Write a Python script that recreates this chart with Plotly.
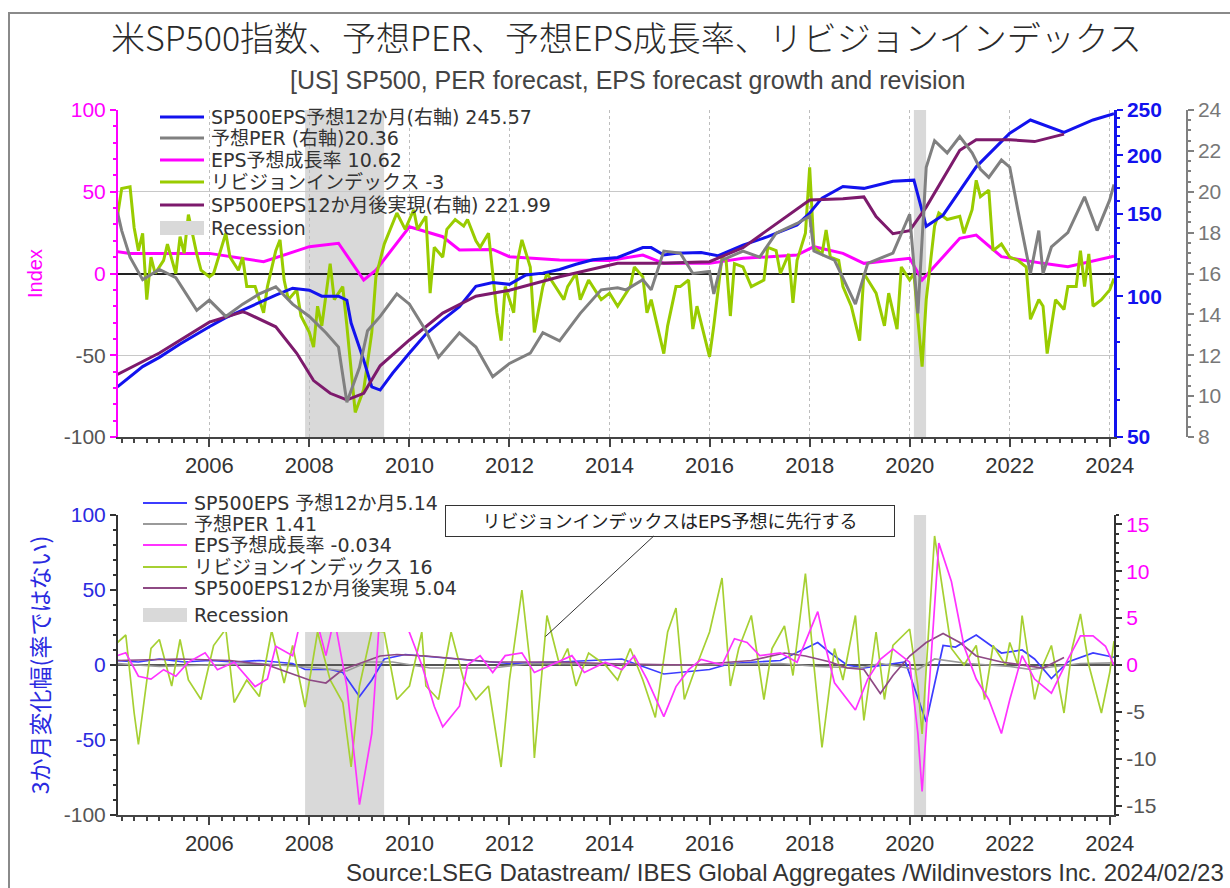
import math
import plotly.graph_objects as go

W, H = 1230, 888

# ---------------- Top panel: levels ----------------
# S&P500 12-month forward EPS (right axis, log)
eps_fwd_dates = ["2004-03", "2004-09", "2005-01", "2005-06", "2006-01", "2006-05", "2006-09", "2007-01",
                 "2007-05", "2007-09", "2008-01", "2008-04", "2008-08", "2008-10", "2008-11", "2009-02",
                 "2009-04", "2009-06", "2009-09", "2010-01", "2010-05", "2010-09", "2011-01", "2011-05",
                 "2011-09", "2012-01", "2012-05", "2012-09", "2013-01", "2013-05", "2013-09", "2014-03",
                 "2014-09", "2014-11", "2015-02", "2015-05", "2015-11", "2016-03", "2016-09", "2017-03",
                 "2017-10", "2018-01", "2018-04", "2018-09", "2019-02", "2019-09", "2020-02", "2020-05",
                 "2020-09", "2021-05", "2022-01", "2022-06", "2023-02", "2023-09", "2024-02"]
eps_fwd = [64, 70.7, 74, 79, 86, 90, 93.4, 97,
           100.5, 104, 103, 100, 100, 98, 87.6, 73,
           64, 63, 68.5, 75.6, 83, 89, 95, 105,
           107, 106, 111, 112, 114, 117, 119.6, 121,
           127, 127, 122.5, 123.5, 124, 122, 128.6, 134,
           142, 150.6, 162, 171.6, 170, 176, 177, 141,
           149, 189, 223, 238, 224, 238, 245.57]

# Forward PER (second right axis)
per_dates = ["2004-03", "2004-04", "2004-06", "2004-09", "2005-01", "2005-05", "2005-10", "2006-01",
             "2006-05", "2006-09", "2007-01", "2007-05", "2007-09", "2008-01", "2008-05", "2008-08",
             "2008-10", "2009-01", "2009-03", "2009-06", "2009-10", "2010-01", "2010-05", "2010-08",
             "2011-01", "2011-05", "2011-09", "2012-01", "2012-06", "2012-09", "2013-01", "2013-06",
             "2013-11", "2014-03", "2014-05", "2014-09", "2014-11", "2015-02", "2015-06", "2015-09",
             "2016-01", "2016-02", "2016-04", "2016-09", "2017-01", "2017-05", "2017-10", "2018-01",
             "2018-02", "2018-07", "2018-12", "2019-03", "2019-09", "2020-01", "2020-03", "2020-05",
             "2020-07", "2020-10", "2021-01", "2021-04", "2021-06", "2021-08", "2021-11", "2022-01",
             "2022-03", "2022-06", "2022-08", "2022-09", "2022-11", "2023-03", "2023-07", "2023-10",
             "2024-01", "2024-02"]
per = [19.0, 18.1, 16.8, 15.7, 16.2, 15.8, 14.2, 14.7,
       13.9, 14.5, 15.0, 15.35, 14.5, 13.9, 13.1, 12.4,
       9.7, 11.4, 13.2, 13.9, 15.0, 14.5, 13.2, 11.9,
       13.1, 12.4, 10.95, 11.6, 12.1, 13.1, 12.7, 14.05,
       15.2, 15.3, 15.2, 15.7, 15.2, 17.1, 17.0, 16.0,
       16.1, 15.0, 16.65, 17.1, 16.8, 17.97, 18.45, 18.8,
       17.1, 16.65, 14.5, 16.5, 17.0, 18.9, 14.05, 21.2,
       22.5, 21.9, 22.7, 21.9, 21.1, 20.7, 21.55, 21.2,
       19.1, 16.0, 18.1, 16.0, 17.3, 18.0, 19.75, 18.1,
       19.6, 20.36]

# Forecast EPS growth (left axis)
growth_dates = ["2004-03", "2004-06", "2006-01", "2007-02", "2008-01", "2008-08", "2009-02", "2009-05",
                "2010-01", "2010-05", "2010-09", "2011-01", "2011-09", "2012-01", "2013-01", "2014-01",
                "2014-09", "2015-02", "2016-01", "2016-09", "2017-10", "2018-02", "2018-09", "2019-02",
                "2020-01", "2020-04", "2020-09", "2021-01", "2021-05", "2021-11", "2022-09", "2023-03",
                "2024-02"]
growth = [13.3, 12.3, 12.3, 7.2, 16.4, 18.5, -4, 2,
          28.6, 25.6, 22.5, 14.4, 14.7, 10.3, 8.3, 8,
          11.3, 6.2, 6.2, 9.3, 11.3, 16.4, 12.3, 6.2,
          9.3, -4, 10.3, 21.5, 23.5, 10.3, 6.2, 4.2,
          10.62]

# Revision index (left axis)
rev_dates = ["2004-03", "2004-04", "2004-06", "2004-07", "2004-08", "2004-09", "2004-10", "2004-11",
             "2004-12", "2005-02", "2005-03", "2005-05", "2005-06", "2005-07", "2005-08", "2005-10",
             "2005-11", "2006-01", "2006-02", "2006-05", "2006-06", "2006-08", "2006-09", "2006-10",
             "2006-12", "2007-02", "2007-03", "2007-05", "2007-06", "2007-07", "2007-08", "2007-10",
             "2007-11", "2008-01", "2008-02", "2008-03", "2008-04", "2008-06", "2008-07", "2008-09",
             "2008-10", "2008-12", "2009-02", "2009-04", "2009-05", "2009-07", "2009-10", "2009-12",
             "2010-02", "2010-03", "2010-05", "2010-06", "2010-07", "2010-09", "2010-10", "2010-12",
             "2011-02", "2011-03", "2011-05", "2011-06", "2011-08", "2011-10", "2011-11", "2011-12",
             "2012-02", "2012-03", "2012-04", "2012-06", "2012-07", "2012-09", "2012-10", "2012-12",
             "2013-02", "2013-03", "2013-05", "2013-06", "2013-08", "2013-10", "2013-11", "2014-01",
             "2014-03", "2014-06", "2014-07", "2014-09", "2014-10", "2014-11", "2015-02", "2015-03",
             "2015-05", "2015-06", "2015-08", "2015-09", "2015-10", "2016-01", "2016-02", "2016-04",
             "2016-05", "2016-06", "2016-07", "2016-09", "2016-11", "2017-02", "2017-03", "2017-05",
             "2017-06", "2017-08", "2017-09", "2017-10", "2017-12", "2018-01", "2018-02", "2018-04",
             "2018-05", "2018-06", "2018-08", "2018-09", "2018-11", "2019-01", "2019-02", "2019-04",
             "2019-05", "2019-07", "2019-08", "2019-10", "2019-11", "2020-01", "2020-02", "2020-04",
             "2020-05", "2020-07", "2020-08", "2020-10", "2021-01", "2021-02", "2021-04", "2021-05",
             "2021-06", "2021-08", "2021-09", "2021-11", "2022-01", "2022-03", "2022-05", "2022-06",
             "2022-08", "2022-09", "2022-10", "2022-12", "2023-02", "2023-03", "2023-05", "2023-06",
             "2023-07", "2023-08", "2023-09", "2023-11", "2024-01", "2024-02"]
rev = [35, 52, 53, 28, 14, 24.6, -16, 10,
       0, 8, 18, 0, 22.6, 12.4, 36, 12,
       2, -2, 0, 24.6, 10, 2, 10, -8,
       -8, -24, -8, 14, 20.6, -4, -16, -10,
       -26, -36, -45, -20, -32, 6, -16, -8,
       -32, -85, -71, -36, -2, 18, 37, 27,
       39, 27, 35, -12, 16, 10, 27, 33,
       29, 33, 20, 16, 24.6, -24, -41, -8,
       -24, 8, 20.6, 4, -36, -8, 0, -8,
       -16, -8, 0, -16, -4, -12, -16, -12,
       -20, -8, 4, -2, -24, -16, -49, -32,
       -8, -8, -4, -34, -20, -51, -32, 10,
       8, -26, 6, 4, -8, -4, 16, 14,
       0, 12, -18, 8, 24.6, 65, 16, 12,
       26.6, 10, 8, -8, -20, -41, 0, -8,
       -12, -32, -12, -34, 4, -4, 0, -57,
       -16, 29, 37, 33, 35, 24.6, 39, 57,
       47, 51, 14, 18, 10, 8, 4, -28,
       -16, -20, -49, -16, -22, -8, -8, 14,
       -8, 12, -20, -16, -10, -3]

# Realised EPS 12 months later (right axis, log)
eps_act_dates = ["2004-03", "2005-01", "2006-01", "2006-09", "2006-10", "2007-05", "2007-10", "2008-02",
                 "2008-06", "2008-10", "2009-02", "2009-06", "2010-01", "2010-09", "2011-05", "2012-01",
                 "2013-01", "2014-03", "2015-01", "2016-01", "2016-09", "2017-03", "2017-10", "2018-01",
                 "2018-09", "2019-02", "2019-05", "2019-09", "2020-01", "2020-05", "2021-01", "2021-05",
                 "2022-01", "2022-07", "2023-02"]
eps_act = [68, 75.6, 88, 92.6, 92, 86, 75.5, 66,
           62, 60, 62, 71, 80.6, 92, 100, 103,
           110, 117.6, 117.6, 118.5, 127, 138.6, 153, 160.6,
           161.5, 163, 148, 136, 138, 155, 205, 216,
           216, 214, 221.99]

# ---------------- Bottom panel: 3-month changes ----------------
d_eps_fwd_dates = ["2004-03", "2004-08", "2005-01", "2005-07", "2006-01", "2006-07", "2007-01", "2007-06",
                   "2007-09", "2007-12", "2008-06", "2008-09", "2009-01", "2009-04", "2009-07", "2009-12",
                   "2011-01", "2012-01", "2013-01", "2014-04", "2015-02", "2016-01", "2016-06", "2017-06",
                   "2018-03", "2018-06", "2018-10", "2019-02", "2019-12", "2020-05", "2020-09", "2020-12",
                   "2021-05", "2021-11", "2022-04", "2022-07", "2022-11", "2023-03", "2023-09", "2024-02"]
d_eps_fwd = [3, 2, 4, 2, 3, 2, 3, 2,
             1, -3, -3, -5, -21, -10, 4, 7,
             4, 1, 2, 4, -6, -3, 1, 3,
             15, 8, 0, -2, 2, -38, 13, 12,
             20, 8, 10, 4, -9, 2, 8, 5.14]

d_per_dates = ["2004-03", "2005-01", "2006-01", "2007-01", "2008-03", "2008-10", "2009-03", "2009-09",
               "2010-06", "2011-09", "2012-06", "2013-06", "2014-06", "2015-06", "2016-03", "2017-06",
               "2018-03", "2019-01", "2019-06", "2020-03", "2020-07", "2021-03", "2022-01", "2022-06",
               "2023-06", "2024-02"]
d_per = [1, -1, 0, 1, -2, -4, 2, 2,
         -2, -2, 1, 1, 0.5, 0, 0.5, 1,
         -1, -2, 1, -3, 4, 1, -1, -3,
         1, 1.41]

d_growth_dates = ["2004-03", "2004-05", "2004-08", "2004-11", "2005-02", "2005-05", "2005-08", "2005-12",
                  "2006-03", "2006-07", "2006-12", "2007-03", "2007-05", "2007-09", "2007-11", "2008-02",
                  "2008-05", "2008-07", "2008-10", "2008-12", "2009-01", "2009-04", "2009-06", "2009-10",
                  "2010-01", "2010-04", "2010-07", "2010-09", "2011-01", "2011-03", "2011-06", "2011-09",
                  "2011-12", "2012-04", "2012-07", "2012-11", "2013-04", "2013-07", "2013-12", "2014-04",
                  "2014-07", "2014-10", "2015-02", "2015-05", "2015-08", "2015-11", "2016-04", "2016-07",
                  "2016-10", "2017-01", "2017-06", "2017-10", "2018-03", "2018-05", "2018-07", "2018-12",
                  "2019-03", "2019-06", "2019-09", "2020-01", "2020-03", "2020-04", "2020-06", "2020-08",
                  "2020-11", "2021-02", "2021-05", "2021-08", "2021-11", "2022-01", "2022-04", "2022-07",
                  "2022-11", "2023-03", "2023-06", "2023-09", "2023-12", "2024-02"]
d_growth = [1, 1.3, -1.2, -1.5, -0.5, -1.2, 0.3, 1.3,
            -0.5, 0.3, -2.3, -1.5, 2, 1, 5, 6,
            1, 5, -2.3, -11, -14.9, -7.3, 6, 7,
            3.5, 0, -4.4, -6.6, -4.4, 0, 1, -0.8,
            1, 1.3, -0.8, 0, 1, -0.8, 0.3, -0.5,
            1, -1.5, -5.5, -2.3, -0.5, 0.6, 0, 2.8,
            2.4, 1, 1.3, 0.3, 5.7, 1.7, -1.9, -4.8,
            -1.5, 0.6, 1.7, 0.3, -7.3, -13.5, 0, 13,
            8.9, 2, -1.5, -3.7, -7.3, -3.7, 1, -1.5,
            -3, 0.6, 3.1, 3.1, 2, -0.034]

d_rev_dates = ["2004-03", "2004-05", "2004-07", "2004-08", "2004-11", "2005-01", "2005-04", "2005-06",
               "2005-08", "2005-11", "2006-02", "2006-05", "2006-07", "2006-10", "2007-01", "2007-04",
               "2007-07", "2007-09", "2007-12", "2008-03", "2008-06", "2008-09", "2008-11", "2009-01",
               "2009-04", "2009-07", "2009-10", "2010-01", "2010-04", "2010-05", "2010-08", "2010-11",
               "2011-02", "2011-05", "2011-08", "2011-11", "2012-01", "2012-04", "2012-06", "2012-07",
               "2012-10", "2013-01", "2013-03", "2013-05", "2013-08", "2013-12", "2014-03", "2014-06",
               "2014-09", "2014-12", "2015-03", "2015-05", "2015-07", "2015-09", "2016-01", "2016-04",
               "2016-06", "2016-08", "2016-11", "2017-02", "2017-04", "2017-07", "2017-09", "2017-12",
               "2018-02", "2018-04", "2018-07", "2018-09", "2018-12", "2019-02", "2019-05", "2019-07",
               "2019-09", "2020-01", "2020-03", "2020-04", "2020-07", "2020-09", "2020-11", "2021-02",
               "2021-05", "2021-07", "2021-09", "2021-12", "2022-01", "2022-03", "2022-04", "2022-07",
               "2022-09", "2022-11", "2023-02", "2023-04", "2023-06", "2023-08", "2023-11", "2024-01",
               "2024-02"]
d_rev = [15, 20, -32, -53, 11, 17, -14, 17,
         -10, -23, 13, 24, -25, -10, -21, 23,
         -12, 13, -28, 22, -10, -25, -68, -14,
         23, 22, -23, -14, 22, -14, -23, 22,
         -10, -23, -14, -68, -10, 50, 0, -62,
         33, 0, 11, -14, 8, 0, -10, 11,
         -10, -35, 22, 38, -23, -7, 22, 58,
         -14, 11, 33, -23, 11, 26, -7, 61,
         0, -55, 11, -10, 33, -37, 22, -23,
         13, 24, -14, -46, 86, 49, 11, 0,
         13, -23, 13, 0, 15, 0, 33, -23,
         0, 13, -32, 11, 34, 0, -32, -5,
         16]

d_eps_act_dates = ["2004-03", "2005-06", "2006-06", "2007-03", "2007-08", "2008-01", "2008-05", "2008-09",
                   "2009-02", "2009-06", "2009-10", "2010-05", "2011-01", "2011-09", "2013-01", "2014-06",
                   "2015-09", "2016-11", "2017-07", "2017-12", "2018-06", "2018-10", "2019-02", "2019-06",
                   "2019-09", "2020-01", "2020-05", "2020-09", "2021-01", "2021-05", "2021-11", "2022-04",
                   "2022-09", "2023-02"]
d_eps_act = [3, 4, 3, 0, -5, -10, -12, -3,
             2, 6, 7, 6, 4, 2, 2, 0.5,
             0, 3, 8, 6, 2, -2, -3, -19,
             -7, 6, 15, 21, 15, 6, 2, 0,
             -2, 5.04]

# US recessions
rec_start = ["2007-12-01", "2020-02-01"]
rec_end = ["2009-06-30", "2020-04-30"]


def fmt(v):
    return f"{v:g}"


def pxx(x):
    return x / W


def pxy(y):
    return 1 - y / H


C_BLUE = "#1212ee"
C_GRAY = "#808080"
C_MAG = "#ff00ff"
C_GREEN = "#99cc00"
C_PURP = "#7d1a6c"
C_REC = "#d9d9d9"

B_BLUE = "#3c3cff"
B_GRAY = "#9a9a9a"
B_MAG = "#ff33ff"
B_GREEN = "#a6d032"
B_PURP = "#8e4a84"

JP = "DejaVu Sans, Noto Sans CJK JP, sans-serif"
AR = "Liberation Sans, Arial, sans-serif"
LEG_SIZE = 19

fig = go.Figure()

# top panel lines
top_series = [
    (eps_fwd_dates, eps_fwd, "y2", C_BLUE),
    (per_dates, per, "y3", C_GRAY),
    (growth_dates, growth, "y", C_MAG),
    (rev_dates, rev, "y", C_GREEN),
    (eps_act_dates, eps_act, "y2", C_PURP),
]
for xs, ys, ax, col in top_series:
    fig.add_trace(go.Scatter(x=xs, y=ys, xaxis="x", yaxis=ax, mode="lines",
                             line=dict(color=col, width=3), showlegend=False, hoverinfo="skip"))

# bottom panel lines
bot_series = [
    (d_eps_fwd_dates, d_eps_fwd, "y4", B_BLUE),
    (d_per_dates, d_per, "y4", B_GRAY),
    (d_growth_dates, d_growth, "y5", B_MAG),
    (d_rev_dates, d_rev, "y4", B_GREEN),
    (d_eps_act_dates, d_eps_act, "y4", B_PURP),
]
for xs, ys, ax, col in bot_series:
    fig.add_trace(go.Scatter(x=xs, y=ys, xaxis="x2", yaxis=ax, mode="lines",
                             line=dict(color=col, width=1.7), showlegend=False, hoverinfo="skip"))

shapes = []
# recession shading
for s, e in zip(rec_start, rec_end):
    shapes.append(dict(type="rect", xref="x", yref="y domain", x0=s, x1=e, y0=0, y1=1,
                       fillcolor=C_REC, line=dict(width=0), layer="below"))
    shapes.append(dict(type="rect", xref="x2", yref="y4 domain", x0=s, x1=e, y0=0, y1=1,
                       fillcolor=C_REC, line=dict(width=0), layer="below"))

# outer frame
shapes.append(dict(type="rect", xref="paper", yref="paper", x0=pxx(9), x1=1.02, y0=-0.02, y1=pxy(13),
                   line=dict(color="#8a8a8a", width=2), fillcolor="rgba(0,0,0,0)", layer="below"))

annotations = []

# ---- legend of the top panel (transparent) ----
top_labels = [
    f"SP500EPS予想12か月(右軸) {fmt(eps_fwd[-1])}",
    f"予想PER (右軸){fmt(per[-1])}",
    f"EPS予想成長率 {fmt(growth[-1])}",
    f"リビジョンインデックス {fmt(rev[-1])}",
    f"SP500EPS12か月後実現(右軸) {fmt(eps_act[-1])}",
]
top_cols = [C_BLUE, C_GRAY, C_MAG, C_GREEN, C_PURP]
top_rows = [117, 138, 160, 182, 205]
for lab, col, ry in zip(top_labels, top_cols, top_rows):
    shapes.append(dict(type="line", xref="paper", yref="paper", x0=pxx(160), x1=pxx(204),
                       y0=pxy(ry), y1=pxy(ry), line=dict(color=col, width=3), layer="above"))
    annotations.append(dict(xref="paper", yref="paper", x=pxx(209), y=pxy(ry), text=lab,
                            showarrow=False, xanchor="left", yanchor="middle",
                            font=dict(family=JP, size=LEG_SIZE, color="#333")))
shapes.append(dict(type="rect", xref="paper", yref="paper", x0=pxx(160), x1=pxx(204),
                   y0=pxy(235), y1=pxy(221), fillcolor=C_REC, line=dict(width=0), layer="above"))
annotations.append(dict(xref="paper", yref="paper", x=pxx(209), y=pxy(228), text="Recession",
                        showarrow=False, xanchor="left", yanchor="middle",
                        font=dict(family=JP, size=LEG_SIZE, color="#333")))

# ---- legend of the bottom panel (white background) ----
shapes.append(dict(type="rect", xref="paper", yref="paper", x0=pxx(120), x1=pxx(478),
                   y0=pxy(632), y1=pxy(491), fillcolor="white", line=dict(width=0), layer="above"))
bot_labels = [
    f"SP500EPS 予想12か月{fmt(d_eps_fwd[-1])}",
    f"予想PER {fmt(d_per[-1])}",
    f"EPS予想成長率 {fmt(d_growth[-1])}",
    f"リビジョンインデックス {fmt(d_rev[-1])}",
    f"SP500EPS12か月後実現 {fmt(d_eps_act[-1])}",
]
bot_cols = [B_BLUE, B_GRAY, B_MAG, B_GREEN, B_PURP]
bot_rows = [503, 524, 545, 567, 588]
for lab, col, ry in zip(bot_labels, bot_cols, bot_rows):
    shapes.append(dict(type="line", xref="paper", yref="paper", x0=pxx(143), x1=pxx(187),
                       y0=pxy(ry), y1=pxy(ry), line=dict(color=col, width=2), layer="above"))
    annotations.append(dict(xref="paper", yref="paper", x=pxx(192), y=pxy(ry), text=lab,
                            showarrow=False, xanchor="left", yanchor="middle",
                            font=dict(family=JP, size=LEG_SIZE, color="#333")))
shapes.append(dict(type="rect", xref="paper", yref="paper", x0=pxx(143), x1=pxx(187),
                   y0=pxy(622), y1=pxy(608), fillcolor=C_REC, line=dict(width=0), layer="above"))
annotations.append(dict(xref="paper", yref="paper", x=pxx(192), y=pxy(615), text="Recession",
                        showarrow=False, xanchor="left", yanchor="middle",
                        font=dict(family=JP, size=LEG_SIZE, color="#333")))

# callout in the bottom panel
annotations.append(dict(xref="x2", yref="y4", x="2012-09-20", y=19, ax=125, ay=-116,
                        text="リビジョンインデックスはEPS予想に先行する", showarrow=True,
                        arrowhead=0, arrowwidth=1, arrowcolor="#333",
                        bgcolor="white", bordercolor="#333", borderwidth=1, borderpad=2,
                        width=444, height=26, align="center",
                        font=dict(family=JP, size=18, color="#222")))

# titles and source
annotations.append(dict(xref="paper", yref="paper", x=pxx(626), y=pxy(36),
                        text="米SP500指数、予想PER、予想EPS成長率、リビジョンインデックス",
                        showarrow=False, xanchor="center", yanchor="middle",
                        font=dict(family="Noto Sans CJK JP, sans-serif", size=34, color="#2a2a2a",
                                  weight=300)))
annotations.append(dict(xref="paper", yref="paper", x=pxx(627), y=pxy(80),
                        text="[US] SP500, PER forecast, EPS forecast growth and revision",
                        showarrow=False, xanchor="center", yanchor="middle",
                        font=dict(family=AR, size=25, color="#444")))
annotations.append(dict(xref="paper", yref="paper", x=pxx(1226), y=pxy(872),
                        text="Source:LSEG Datastream/ IBES Global Aggregates /Wildinvestors Inc. 2024/02/23",
                        showarrow=False, xanchor="right", yanchor="middle",
                        font=dict(family=AR, size=24, color="#333")))


def colored(vals, pos_col, neg_col):
    out = []
    for v in vals:
        c = pos_col if v >= 0 else neg_col
        out.append(f"<span style='color:{c}'>{v}</span>")
    return out


X_DOM = [pxx(118), pxx(1114)]
x_common = dict(
    type="date", range=["2004-03-05", "2024-02-01"], domain=X_DOM,
    tickformat="%Y", dtick="M24", tick0="2006-01-01",
    ticks="outside", ticklen=8, tickwidth=1.5, tickcolor="#444",
    showline=True, linecolor="#444", linewidth=2, zeroline=False,
    tickfont=dict(family=AR, size=22, color="#333"),
    minor=dict(dtick="M3", tick0="2006-01-01", ticks="outside", ticklen=4,
               tickcolor="#444", showgrid=False),
    automargin=False, fixedrange=True,
)

left_vals = [-100, -50, 0, 50, 100]
right_b_vals = [-15, -10, -5, 0, 5, 10, 15]

fig.update_layout(
    width=W, height=H, margin=dict(l=0, r=0, t=0, b=0),
    paper_bgcolor="white", plot_bgcolor="white", template="none",
    showlegend=False, shapes=shapes, annotations=annotations,
    xaxis=dict(x_common, anchor="y", showgrid=True, gridcolor="#bdbdbd", griddash="dot", gridwidth=1),
    xaxis2=dict(x_common, anchor="y4", showgrid=False),
    yaxis=dict(
        domain=[pxy(437), pxy(110)], anchor="x", range=[-100, 100],
        tickvals=left_vals, ticktext=colored(left_vals, C_MAG, "#555"),
        ticks="outside", ticklen=6, tickwidth=1.5, tickcolor=C_MAG,
        showline=True, linecolor=C_MAG, linewidth=2,
        showgrid=True, gridcolor="#c8c8c8", gridwidth=1,
        zeroline=True, zerolinecolor="#222", zerolinewidth=1.5,
        minor=dict(dtick=10, ticks="outside", ticklen=3, tickcolor=C_MAG, showgrid=False),
        tickfont=dict(family=AR, size=21),
        title=dict(text="Index", font=dict(family=AR, size=20, color=C_MAG), standoff=16),
        automargin=False, fixedrange=True,
    ),
    yaxis2=dict(
        overlaying="y", side="right", anchor="x", type="log",
        range=[math.log10(50), math.log10(250)],
        tickvals=[50, 100, 150, 200, 250],
        ticks="outside", ticklen=6, tickwidth=1.5, tickcolor=C_BLUE,
        showline=True, linecolor=C_BLUE, linewidth=2.5, showgrid=False, zeroline=False,
        minor=dict(tickvals=[60, 70, 80, 90, 110, 120, 130, 140, 160, 170, 180, 190, 210, 220, 230, 240],
                   ticks="outside", ticklen=3, tickcolor=C_BLUE, showgrid=False),
        tickfont=dict(family=AR, size=21, color=C_BLUE, weight="bold"),
        automargin=False, fixedrange=True,
    ),
    yaxis3=dict(
        overlaying="y", side="right", anchor="free", position=pxx(1187),
        range=[8, 24], dtick=2,
        ticks="outside", ticklen=6, tickwidth=1.5, tickcolor=C_GRAY,
        showline=True, linecolor=C_GRAY, linewidth=1.5, showgrid=False, zeroline=False,
        minor=dict(dtick=0.5, ticks="outside", ticklen=3, tickcolor=C_GRAY, showgrid=False),
        tickfont=dict(family=AR, size=21, color="#777"),
        automargin=False, fixedrange=True,
    ),
    yaxis4=dict(
        domain=[pxy(815), pxy(515)], anchor="x2", range=[-100, 100],
        tickvals=left_vals,
        ticktext=[f"<span style='color:{'#555' if v == -100 else '#2a2ae0'}'>{v}</span>" for v in left_vals],
        ticks="outside", ticklen=6, tickwidth=1.5, tickcolor="#333",
        showline=True, linecolor="#333", linewidth=2, showgrid=False,
        zeroline=True, zerolinecolor="#555", zerolinewidth=1.5,
        minor=dict(dtick=10, ticks="outside", ticklen=3, tickcolor="#333", showgrid=False),
        tickfont=dict(family=AR, size=21),
        title=dict(text="3か月変化幅(率ではない)",
                   font=dict(family="Noto Sans CJK JP, sans-serif", size=23, color="#2a2ae0"), standoff=8),
        automargin=False, fixedrange=True,
    ),
    yaxis5=dict(
        overlaying="y4", side="right", anchor="x2", range=[-16, 16],
        tickvals=right_b_vals, ticktext=colored(right_b_vals, C_MAG, "#555"),
        ticks="outside", ticklen=6, tickwidth=1.5, tickcolor="#333",
        showline=True, linecolor="#333", linewidth=2, showgrid=False, zeroline=False,
        minor=dict(dtick=1, ticks="outside", ticklen=3, tickcolor="#333", showgrid=False),
        tickfont=dict(family=AR, size=21),
        automargin=False, fixedrange=True,
    ),
)

fig.write_html("out.html")
